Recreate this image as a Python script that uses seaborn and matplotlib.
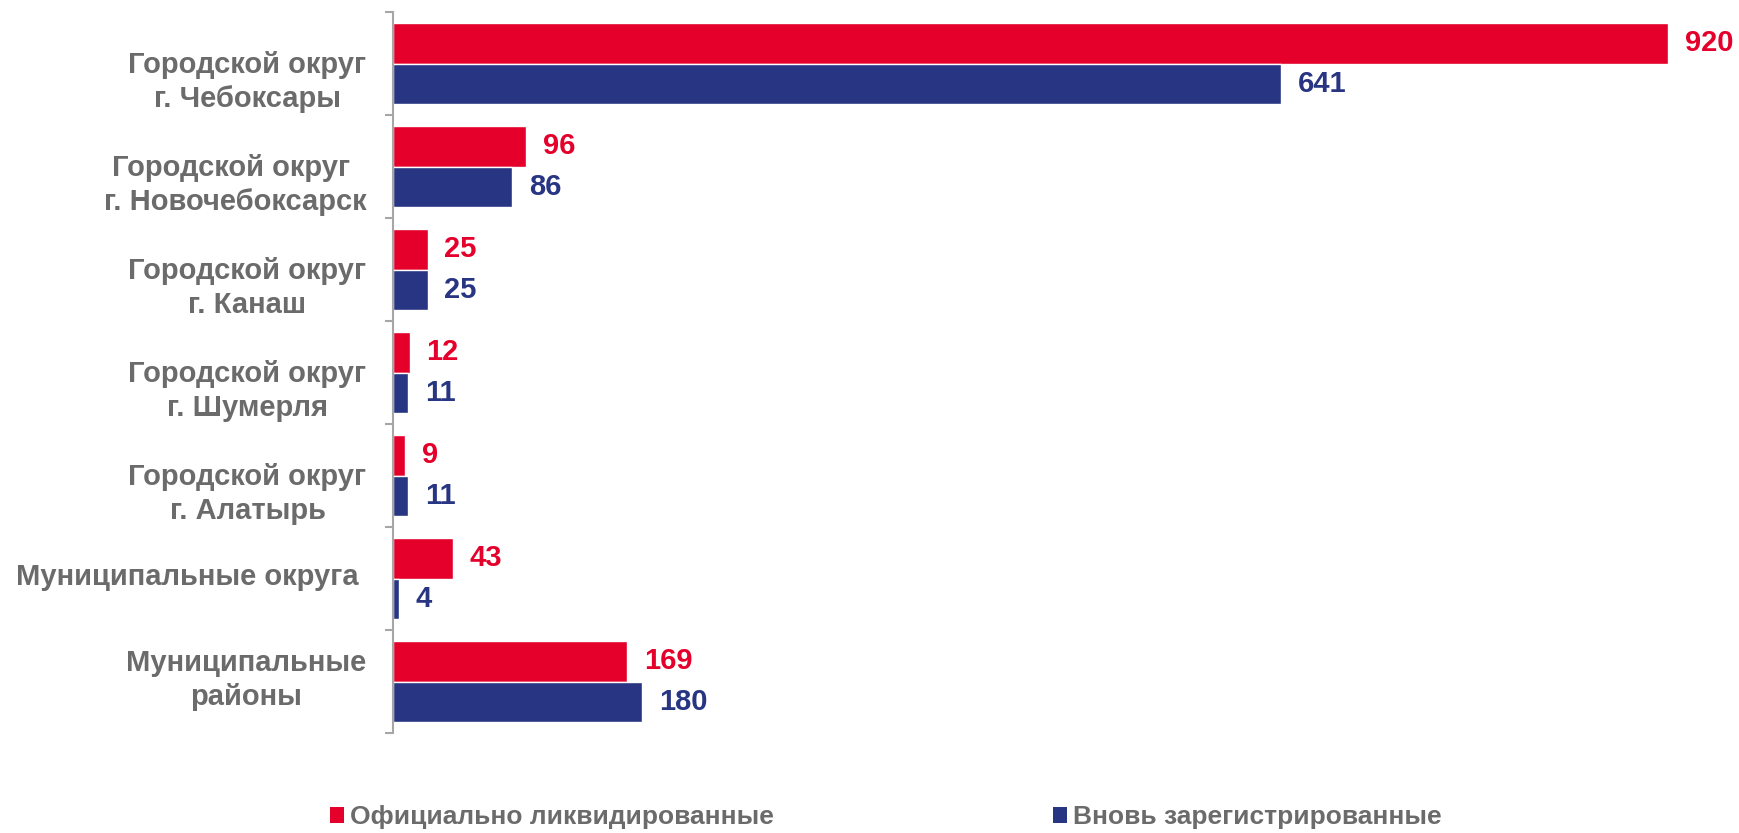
import pandas as pd
import matplotlib.pyplot as plt
import matplotlib.transforms as mtransforms
import seaborn as sns
from matplotlib.patches import Patch
from matplotlib.ticker import FixedLocator

sns.set_style('white')
plt.rcParams['font.family'] = ['Liberation Sans', 'DejaVu Sans']

# DATA ----
categories = ['\nГородской округ\nг. Чебоксары',
              '\nГородской округ \nг. Новочебоксарск',
              '\nГородской округ\nг. Канаш',
              '\nГородской округ\nг. Шумерля',
              '\nГородской округ\nг. Алатырь',
              'Муниципальные округа ',
              'Муниципальные\nрайоны']
liquidated = [920, 96, 25, 12, 9, 43, 169]
registered = [641, 86, 25, 11, 11, 4, 180]
series_names = ['Официально ликвидированные', 'Вновь зарегистрированные']

red = '#E4002B'
blue = '#283582'
gray_text = '#6b6b6b'

df = pd.DataFrame({
    'cat': categories * 2,
    'series': [series_names[0]] * len(categories) + [series_names[1]] * len(categories),
    'value': liquidated + registered,
})

# PLOT ----
fig = plt.figure(figsize=(17.4, 8.33), dpi=100)
ax = fig.add_axes([393 / 1740, 100 / 833, 1347 / 1740, 721 / 833])

sns.barplot(data=df, y='cat', x='value', hue='series', palette=[red, blue],
            orient='h', width=0.78, saturation=1, legend=False, ax=ax)

for cont, col in zip(ax.containers, [red, blue]):
    ax.bar_label(cont, padding=12, color=col, fontsize=21, fontweight='bold')

ax.set_xlim(0, 972)
ax.set_ylim(len(categories) - 0.5, -0.5)
ax.set_xlabel('')
ax.set_ylabel('')
ax.set_xticks([])

for s in ['top', 'right', 'bottom']:
    ax.spines[s].set_visible(False)
ax.spines['left'].set_color('#a6a6a6')
ax.spines['left'].set_linewidth(1.5)

ax.tick_params(axis='y', which='major', length=0, pad=19)
ax.yaxis.set_minor_locator(FixedLocator([i - 0.5 for i in range(len(categories) + 1)]))
ax.tick_params(axis='y', which='minor', length=6, width=1.5, color='#a6a6a6', left=True)
for lbl in ax.get_yticklabels():
    lbl.set_fontsize(21)
    lbl.set_fontweight('bold')
    lbl.set_color(gray_text)
    lbl.set_multialignment('center')
    lbl.set_linespacing(1.3)
    # nudge labels up a little to sit like the reference
    up = 8 if lbl.get_text().count('\n') == 1 else 5
    lbl.set_transform(lbl.get_transform() +
                      mtransforms.ScaledTranslation(0, up / 100, fig.dpi_scale_trans))

# LEGEND ----
handles = [Patch(facecolor=red, edgecolor='none'), Patch(facecolor=blue, edgecolor='none')]
leg = fig.legend(handles, series_names, loc='center left', bbox_to_anchor=(330 / 1740, 0.019),
                 ncol=2, frameon=False, borderpad=0, borderaxespad=0,
                 handlelength=0.52, handleheight=0.52, handletextpad=0.23, columnspacing=10.6,
                 prop={'size': 19, 'weight': 'bold'})
for t in leg.get_texts():
    t.set_color(gray_text)

fig.savefig('out.png', dpi=100)
